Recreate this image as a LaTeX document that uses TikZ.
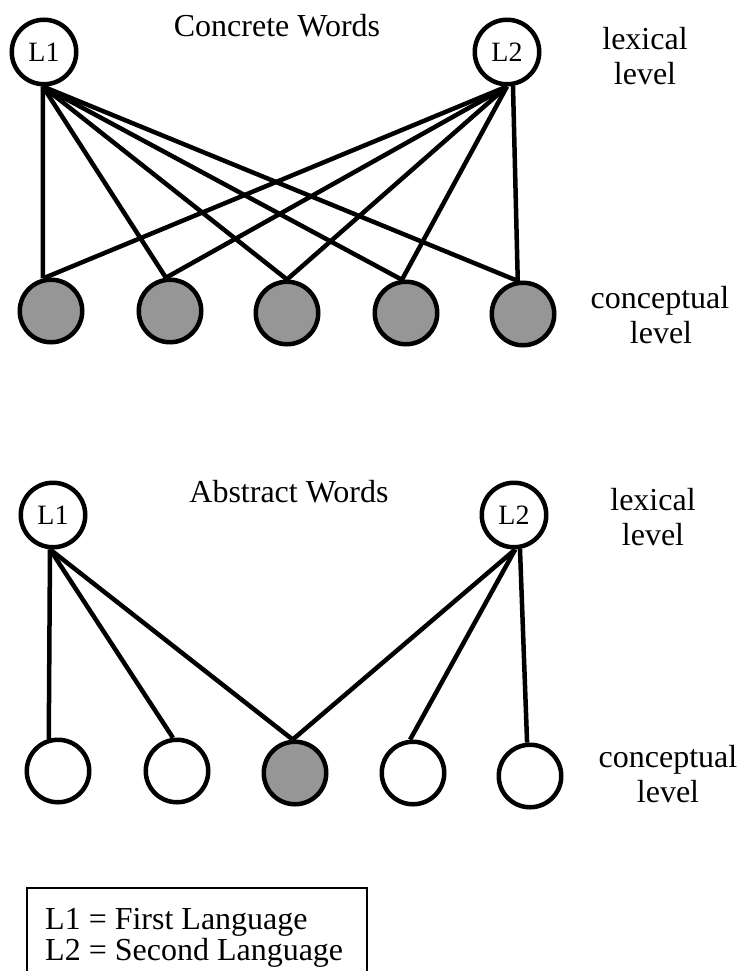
\documentclass[tikz,border=0pt]{standalone}
\usepackage{fontspec}
\setmainfont{Liberation Serif}
\definecolor{conceptgray}{RGB}{150,150,150}
\begin{document}
\begin{tikzpicture}[x=1pt,y=1pt,
  lang/.style={circle,draw,line width=4.5pt,minimum size=64.5pt,inner sep=0pt,
               font=\fontsize{28}{30}\selectfont},
  concept/.style={circle,draw,line width=4.5pt,minimum size=62.5pt,inner sep=0pt},
  active/.style={concept,fill=conceptgray},
  link/.style={line width=4.5pt},
  lbl/.style={anchor=base,inner sep=0pt,font=\fontsize{32}{35}\selectfont},
  keytext/.style={anchor=base west,inner sep=0pt,font=\fontsize{32}{34}\selectfont}]
\useasboundingbox (0,0) rectangle (741,-971);
\clip (0,0) rectangle (741,-971);

% ---- concrete words ----
\node[lbl] (ctitle) at (277,-37) {Concrete Words};
\node[lang] (tL1) at (44,-52) {L1};
\node[lang] (tL2) at (507,-52) {L2};
\node[lbl] (tlex1) at (645,-50) {lexical};
\node[lbl] (tlex2) at (645,-85) {level};
\foreach \i/\x/\y in {1/51/311, 2/170/311, 3/287/313, 4/406/313, 5/523/314}
  \node[active] (tc\i) at (\x,-\y) {};
\node[lbl] (tcon1) at (660,-308) {conceptual};
\node[lbl] (tcon2) at (661,-343) {level};

\foreach \i/\a in {1/104, 2/97, 3/90, 4/97, 5/99}
  \draw[link] (tL1.-92) -- (tc\i.\a);
\foreach \i/\a in {1/104, 2/97, 3/90, 4/97}
  \draw[link] (tL2.south) -- (tc\i.\a);
\draw[link] (tL2.-80) -- (tc5.99);

% ---- abstract words ----
\node[lbl] (atitle) at (289,-502) {Abstract Words};
\node[lang] (bL1) at (53,-515) {L1};
\node[lang] (bL2) at (514,-515) {L2};
\node[lbl] (blex1) at (653,-510) {lexical};
\node[lbl] (blex2) at (653,-545) {level};
\node[concept] (bc1) at (58,-771) {};
\node[concept] (bc2) at (177,-771) {};
\node[active]  (bc3) at (295,-773) {};
\node[concept] (bc4) at (413,-773) {};
\node[concept] (bc5) at (530,-776) {};
\node[lbl] (bcon1) at (668,-767) {conceptual};
\node[lbl] (bcon2) at (668,-802) {level};

\draw[link] (bL1.-95) -- (bc1.106);
\draw[link] (bL1.-95) -- (bc2.97);
\draw[link] (bL1.-95) -- (bc3.94);
\draw[link] (bL2.-88) -- (bc3.94);
\draw[link] (bL2.-88) -- (bc4.95);
\draw[link] (bL2.-80) -- (bc5.95);

% ---- key ----
\draw[line width=2pt] (27,-888) rectangle (367,-1000);
\node[keytext] (k1) at (45,-929) {L1 = First Language};
\node[keytext] (k2) at (45,-960) {L2 = Second Language};
\end{tikzpicture}
\end{document}
